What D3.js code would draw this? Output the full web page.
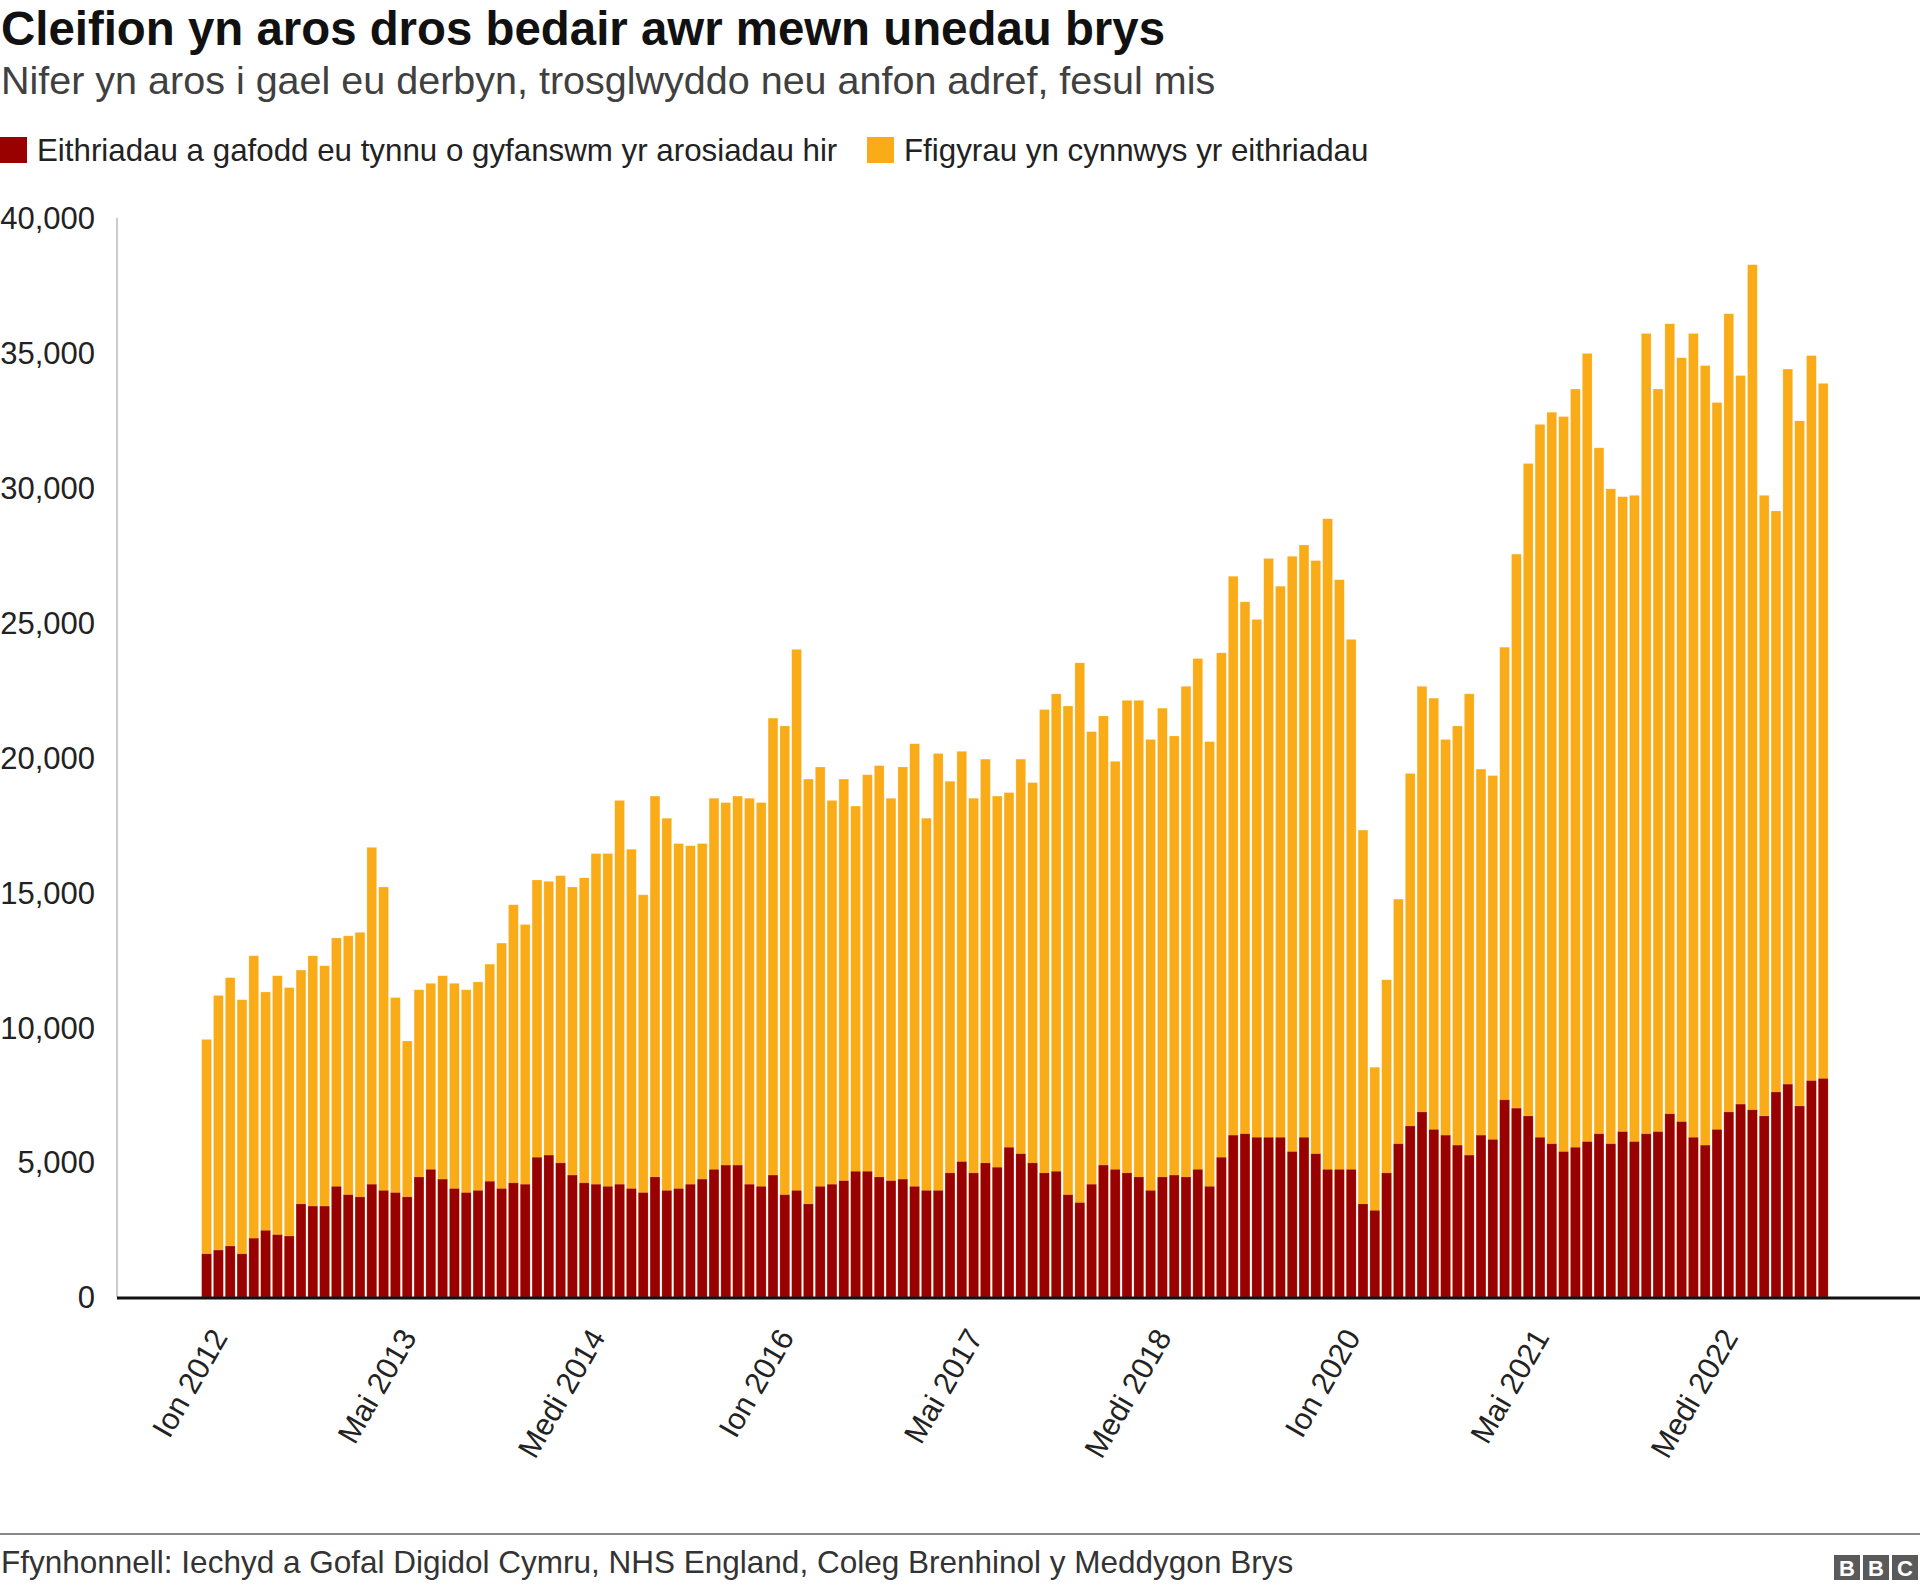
<!DOCTYPE html>
<html>
<head>
<meta charset="utf-8">
<script src="https://cdn.jsdelivr.net/npm/d3@7"></script>
<style>
  html, body { margin: 0; padding: 0; background: #fff; }
  svg { display: block; font-family: "Liberation Sans", Arial, Helvetica, sans-serif; }
</style>
</head>
<body>
<svg id="chart" width="1920" height="1589"></svg>
<script>
// ---------- DATA ----------
const startMonth = new Date(2012, 0, 1);
const endMonth = new Date(2023, 6, 1); // exclusive
const months = d3.timeMonths(startMonth, endMonth); // Jan 2012 .. Jun 2023

// Total waits over 4 hours (figures including the exclusions)
const totalWaits = [
  9550, 11180, 11840, 11020, 12650, 11310, 11910, 11470, 12120, 12650, 12280, 13310,
  13390, 13520, 16670, 15200, 11100, 9490, 11390, 11630, 11910, 11630, 11390, 11680,
  12340, 13120, 14540, 13810, 15460, 15410, 15620, 15200, 15540, 16440, 16440, 18410,
  16600, 14910, 18570, 17750, 16810, 16730, 16810, 18490, 18330, 18570, 18490, 18330,
  21460, 21170, 24010, 19200, 19650, 18410, 19200, 18200, 19360, 19700, 18490, 19650,
  20510, 17750, 20150, 19120, 20230, 18490, 19940, 18570, 18700, 19940, 19070, 21780,
  22360, 21910, 23510, 20960, 21540, 19860, 22120, 22120, 20670, 21830, 20800, 22640,
  23670, 20590, 23880, 26720, 25770, 25120, 27380, 26350, 27460, 27880, 27300, 28850,
  26590, 24380, 17310, 8520, 11760, 14750, 19410, 22640, 22200, 20670, 21170, 22360,
  19570, 19330, 24090, 27540, 30900, 32350, 32800, 32640, 33660, 34980, 31480, 29960,
  29670, 29720, 35720, 33660, 36080, 34820, 35720, 34530, 33160, 36450, 34160, 38270,
  29720, 29140, 34400, 32480, 34900, 33870
];

// Exclusions removed from the long-wait totals
const exclusions = [
  1600, 1740, 1890, 1600, 2180, 2470, 2310, 2260, 3450, 3370, 3370, 4100,
  3790, 3710, 4180, 3950, 3870, 3710, 4450, 4730, 4370, 4020, 3870, 3950,
  4290, 4020, 4230, 4180, 5180, 5260, 4970, 4520, 4230, 4180, 4100, 4180,
  4020, 3870, 4450, 3950, 4020, 4180, 4370, 4730, 4890, 4890, 4180, 4100,
  4520, 3790, 3950, 3450, 4100, 4180, 4310, 4660, 4660, 4450, 4310, 4370,
  4100, 3950, 3950, 4600, 5020, 4600, 4970, 4810, 5550, 5310, 4970, 4600,
  4660, 3790, 3500, 4180, 4890, 4730, 4600, 4450, 3950, 4450, 4520, 4450,
  4730, 4100, 5180, 6000, 6050, 5920, 5920, 5920, 5390, 5920, 5310, 4730,
  4730, 4730, 3450, 3210, 4600, 5680, 6340, 6860, 6210, 6000, 5630, 5260,
  6000, 5840, 7310, 7000, 6710, 5920, 5680, 5390, 5550, 5760, 6050, 5680,
  6130, 5760, 6050, 6130, 6790, 6500, 5920, 5630, 6210, 6860, 7150, 6940,
  6710, 7600, 7890, 7080, 8020, 8100
];

const yTicks = [0, 5000, 10000, 15000, 20000, 25000, 30000, 35000, 40000];
const xTickIndex = [0, 16, 32, 48, 64, 80, 96, 112, 128];
const xTickLabels = ["Ion 2012", "Mai 2013", "Medi 2014", "Ion 2016", "Mai 2017",
                     "Medi 2018", "Ion 2020", "Mai 2021", "Medi 2022"];

const seriesNames = ["Eithriadau a gafodd eu tynnu o gyfanswm yr arosiadau hir",
                     "Ffigyrau yn cynnwys yr eithriadau"];
const colors = { excl: "#990000", total: "#FAAB18" };

// ---------- LAYOUT ----------
const svg = d3.select("#chart");
const baseY = 1297, topY = 218;
const axisX = 117;

const x = d3.scaleBand()
  .domain(months.map((d, i) => i))
  .range([200.7, 1829.1])
  .paddingInner(0.17)
  .paddingOuter(0.085);

const y = d3.scaleLinear().domain([0, 40000]).range([baseY, topY]);

// Title & subtitle
svg.append("text").attr("x", 1).attr("y", 45)
  .attr("font-size", 47.4).attr("font-weight", "bold").attr("fill", "#111")
  .text("Cleifion yn aros dros bedair awr mewn unedau brys");
svg.append("text").attr("x", 1).attr("y", 94)
  .attr("font-size", 39.5).attr("fill", "#404040")
  .text("Nifer yn aros i gael eu derbyn, trosglwyddo neu anfon adref, fesul mis");

// Legend
const legend = svg.append("g");
const legItems = [
  { name: seriesNames[0], color: colors.excl, x: 0 },
  { name: seriesNames[1], color: colors.total, x: 867 }
];
legItems.forEach(it => {
  legend.append("rect").attr("x", it.x).attr("y", 137).attr("width", 27).attr("height", 26)
    .attr("fill", it.color);
  legend.append("text").attr("x", it.x + 37).attr("y", 161)
    .attr("font-size", 31.3).attr("fill", "#222").text(it.name);
});

// Y axis
const yAxis = d3.axisLeft(y).tickValues(yTicks).tickSize(0).tickPadding(0)
  .tickFormat(d3.format(","));
const gy = svg.append("g").attr("transform", `translate(95,0)`).call(yAxis);
gy.select(".domain").remove();
gy.selectAll("text").attr("font-size", 31).attr("fill", "#222")
  .attr("font-family", "Liberation Sans, Arial, sans-serif").attr("dy", "0.35em");

svg.append("line").attr("x1", axisX).attr("x2", axisX)
  .attr("y1", topY).attr("y2", baseY)
  .attr("stroke", "#cccccc").attr("stroke-width", 2);

// Bars
const bars = svg.append("g");
bars.selectAll("rect.total").data(totalWaits).join("rect")
  .attr("class", "total")
  .attr("x", (d, i) => x(i)).attr("width", x.bandwidth())
  .attr("y", d => y(d)).attr("height", d => y(0) - y(d))
  .attr("fill", colors.total)
  .attr("stroke", "#fff").attr("stroke-opacity", 0.35).attr("stroke-width", 0.6);
bars.selectAll("rect.excl").data(exclusions).join("rect")
  .attr("class", "excl")
  .attr("x", (d, i) => x(i)).attr("width", x.bandwidth())
  .attr("y", d => y(d)).attr("height", d => y(0) - y(d))
  .attr("fill", colors.excl)
  .attr("stroke", "#fff").attr("stroke-opacity", 0.25).attr("stroke-width", 0.6);

// Baseline
svg.append("line").attr("x1", axisX).attr("x2", 1920)
  .attr("y1", baseY + 1).attr("y2", baseY + 1)
  .attr("stroke", "#111").attr("stroke-width", 3);

// X axis labels
const xa = svg.append("g");
xTickIndex.forEach((idx, k) => {
  const cx = x(idx) + x.bandwidth() / 2 + 22;
  const cy = baseY + 40;
  xa.append("text")
    .attr("transform", `translate(${cx},${cy}) rotate(-60)`)
    .attr("text-anchor", "end")
    .attr("font-size", 30.5).attr("fill", "#222")
    .text(xTickLabels[k]);
});

// Footer
svg.append("line").attr("x1", 0).attr("x2", 1920).attr("y1", 1534).attr("y2", 1534)
  .attr("stroke", "#888").attr("stroke-width", 2);
svg.append("text").attr("x", 1).attr("y", 1573)
  .attr("font-size", 31.5).attr("fill", "#333")
  .text("Ffynhonnell: Iechyd a Gofal Digidol Cymru, NHS England, Coleg Brenhinol y Meddygon Brys");

// BBC blocks
const bbc = svg.append("g");
["B", "B", "C"].forEach((ch, i) => {
  const bx = 1834 + i * 29;
  bbc.append("rect").attr("x", bx).attr("y", 1555).attr("width", 26).attr("height", 25)
    .attr("fill", "#5a5a5a");
  bbc.append("text").attr("x", bx + 13).attr("y", 1576).attr("text-anchor", "middle")
    .attr("font-size", 22).attr("font-weight", "bold").attr("fill", "#fff").text(ch);
});
</script>
</body>
</html>
